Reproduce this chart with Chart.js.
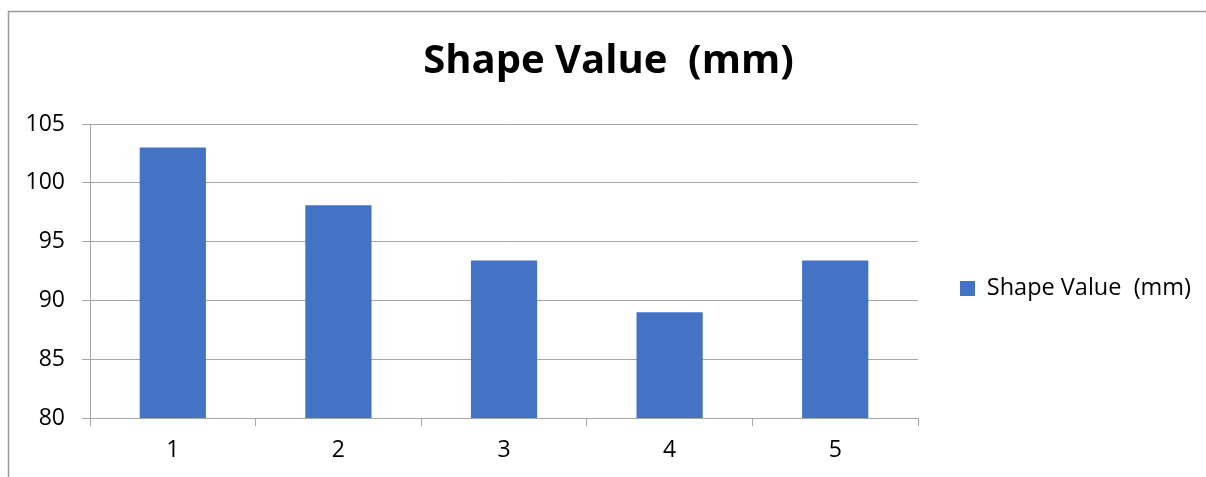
<!DOCTYPE html>
<html>
<head>
<meta charset="utf-8">
<script src="https://cdn.jsdelivr.net/npm/chart.js@4/dist/chart.umd.min.js"></script>
<style>
  html, body { margin: 0; padding: 0; background: #fff; }
  #wrap { width: 1206px; height: 477px; position: relative; }
</style>
</head>
<body>
<div id="wrap"><canvas id="shapeChart"></canvas></div>
<script>
const categories = ['1', '2', '3', '4', '5']
const shapeValues = [103, 98.1, 93.4, 89, 93.4]
const seriesName = 'Shape Value  (mm)'
const chartTitle = 'Shape Value  (mm)'
const yMin = 80
const yMax = 105
const yStep = 5

const gridGray = '#a6a6a6'

// thin grey frame round the chart, like the office chart border
const frame = {
    id: 'frame',
    beforeDraw(chart) {
        const ctx = chart.ctx
        ctx.save()
        ctx.strokeStyle = '#9a9a9a'
        ctx.lineWidth = 1.5
        ctx.strokeRect(8.5, 11.5, 1400, 700)
        ctx.restore()
    }
}

// legend sits a bit lower than chart.js centres it
const legendDrop = {
    id: 'legendDrop',
    afterLayout(chart) {
        chart.legend.top += 50
        chart.legend.bottom += 50
    }
}

const ctx = document.getElementById('shapeChart').getContext('2d')

new Chart(ctx, {
    type: 'bar',
    data: {
        labels: categories,
        datasets: [{
            label: seriesName,
            data: shapeValues,
            backgroundColor: '#4472C4',
            borderWidth: 0,
            barPercentage: 0.4,
            categoryPercentage: 1
        }]
    },
    options: {
        responsive: true,
        maintainAspectRatio: false,
        animation: false,
        layout: {
            padding: { left: 16, right: 5, top: 0, bottom: 0 }
        },
        plugins: {
            title: {
                display: true,
                text: chartTitle,
                color: '#000',
                font: { family: 'Open Sans', size: 40, weight: 'bold' },
                padding: { top: 38, bottom: 38 }
            },
            legend: {
                position: 'right',
                labels: {
                    boxWidth: 15,
                    boxHeight: 15,
                    padding: 42,
                    color: '#000',
                    font: { family: 'Open Sans', size: 23.5 }
                }
            },
            tooltip: { enabled: false }
        },
        scales: {
            x: {
                grid: {
                    drawOnChartArea: false,
                    drawTicks: true,
                    tickLength: 8,
                    color: gridGray
                },
                border: { display: true, color: gridGray },
                ticks: {
                    color: '#000',
                    padding: 11,
                    font: { family: 'Open Sans', size: 23 }
                },
                afterFit(scale) {
                    scale.height = 59
                }
            },
            y: {
                min: yMin,
                max: yMax,
                grid: {
                    drawTicks: true,
                    tickLength: 8,
                    color: gridGray
                },
                border: { display: true, color: gridGray },
                ticks: {
                    stepSize: yStep,
                    color: '#000',
                    padding: 17,
                    font: { family: 'Open Sans', size: 23 }
                },
                afterFit(scale) {
                    scale.width = 74
                }
            }
        }
    },
    plugins: [frame, legendDrop]
})
</script>
</body>
</html>
